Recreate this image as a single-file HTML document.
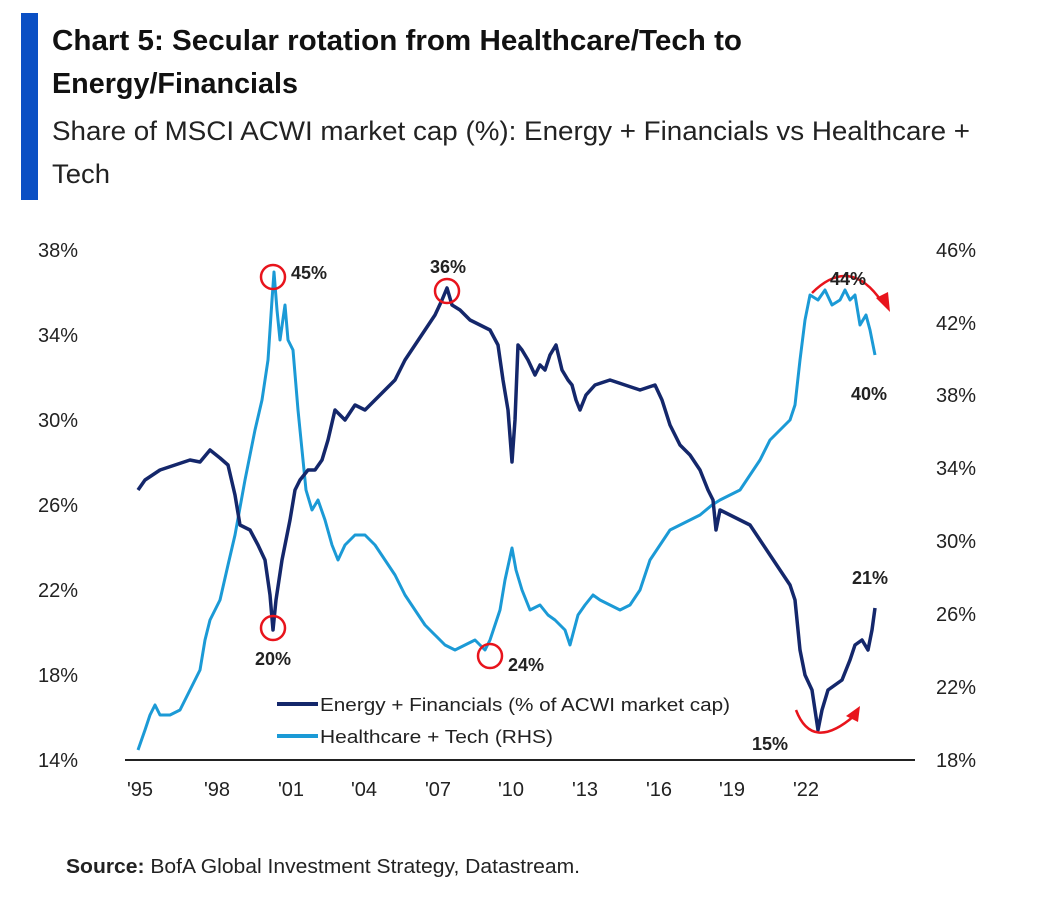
<!DOCTYPE html>
<html><head><meta charset="utf-8"><style>
html,body{margin:0;padding:0;background:#fff;}
svg{display:block;font-family:"Liberation Sans",sans-serif;}
</style></head><body>
<svg width="1040" height="898" viewBox="0 0 1040 898" xmlns="http://www.w3.org/2000/svg">
<rect x="21" y="13" width="17" height="187" fill="#0a4fc4"/>
<text x="52" y="50" font-size="29" font-weight="bold" fill="#111" textLength="690" lengthAdjust="spacingAndGlyphs">Chart 5: Secular rotation from Healthcare/Tech to</text>
<text x="52" y="93" font-size="29" font-weight="bold" fill="#111" textLength="246" lengthAdjust="spacingAndGlyphs">Energy/Financials</text>
<text x="52" y="140" font-size="27" fill="#222" textLength="918" lengthAdjust="spacingAndGlyphs">Share of MSCI ACWI market cap (%): Energy + Financials vs Healthcare +</text>
<text x="52" y="183" font-size="27" fill="#222" textLength="58" lengthAdjust="spacingAndGlyphs">Tech</text>

<g font-size="20" fill="#222">
<text x="38" y="257">38%</text><text x="38" y="342">34%</text><text x="38" y="427">30%</text><text x="38" y="512">26%</text><text x="38" y="597">22%</text><text x="38" y="682">18%</text><text x="38" y="767">14%</text>
<text x="936" y="257">46%</text><text x="936" y="330">42%</text><text x="936" y="402">38%</text><text x="936" y="475">34%</text><text x="936" y="548">30%</text><text x="936" y="621">26%</text><text x="936" y="694">22%</text><text x="936" y="767">18%</text>
</g>
<g font-size="20" fill="#222" text-anchor="middle">
<text x="140" y="796">'95</text><text x="217" y="796">'98</text><text x="291" y="796">'01</text><text x="364" y="796">'04</text><text x="438" y="796">'07</text><text x="511" y="796">'10</text><text x="585" y="796">'13</text><text x="659" y="796">'16</text><text x="732" y="796">'19</text><text x="806" y="796">'22</text>
</g>
<line x1="125" y1="760" x2="915" y2="760" stroke="#222" stroke-width="2"/>

<polyline fill="none" stroke="#1b9ad6" stroke-width="3" stroke-linejoin="round" points="138,750 145,730 150,715 155,705 160,715 170,715 180,710 190,690 200,670 205,640 210,620 220,600 228,565 235,535 245,480 255,430 262,400 268,360 272,300 274,272 277,310 280,340 285,305 288,340 293,350 298,410 302,450 306,490 312,510 318,500 325,520 332,545 338,560 345,545 355,535 365,535 375,545 385,560 395,575 405,595 415,610 425,625 435,635 445,645 455,650 465,645 475,640 485,650 490,640 495,625 500,610 505,580 512,548 516,570 522,590 530,610 540,605 548,615 555,620 565,630 570,645 578,615 585,605 593,595 600,600 610,605 620,610 630,605 640,590 650,560 660,545 670,530 680,525 690,520 700,515 712,505 720,500 730,495 740,490 750,475 760,460 770,440 780,430 790,420 795,405 800,360 805,320 810,295 818,300 825,290 832,305 840,300 845,290 850,300 855,295 860,325 866,315 870,330 875,355"/>
<polyline fill="none" stroke="#14276b" stroke-width="3.5" stroke-linejoin="round" points="138,490 145,480 160,470 175,465 190,460 200,462 210,450 220,458 228,465 235,495 240,525 250,530 258,545 265,560 270,595 273,630 276,600 282,560 290,520 295,490 300,480 308,470 315,470 322,460 328,440 335,410 345,420 355,405 365,410 375,400 385,390 395,380 405,360 415,345 425,330 435,315 442,300 447,288 452,305 460,310 470,320 480,325 490,330 498,345 503,380 508,410 512,462 515,420 518,345 522,350 528,360 535,375 540,365 545,370 550,355 556,345 562,370 568,380 572,385 576,400 580,410 586,395 595,385 610,380 625,385 640,390 655,385 662,400 670,425 680,445 690,455 700,470 708,490 713,500 716,530 720,510 730,515 740,520 750,525 760,540 770,555 780,570 790,585 795,600 800,650 805,675 812,690 818,730 822,710 828,690 835,685 842,680 850,660 855,645 862,640 868,650 872,630 875,608"/>

<g fill="none" stroke="#e8141c" stroke-width="2.5">
<circle cx="273" cy="277" r="12"/><circle cx="447" cy="291" r="12"/><circle cx="273" cy="628" r="12"/><circle cx="490" cy="656" r="12"/>
<path d="M812,293 Q850,255 882,302"/>
<path d="M796,710 Q812,752 854,716"/>
</g>
<polygon points="876,298 890,312 888,292" fill="#e8141c"/>
<polygon points="846,716 860,706 858,722" fill="#e8141c"/>

<g font-size="18" font-weight="bold" fill="#222">
<text x="291" y="279">45%</text><text x="430" y="273">36%</text><text x="255" y="665">20%</text><text x="508" y="671">24%</text>
<text x="830" y="285">44%</text><text x="851" y="400">40%</text><text x="852" y="584">21%</text><text x="752" y="750">15%</text>
</g>

<line x1="277" y1="704" x2="318" y2="704" stroke="#14276b" stroke-width="4"/>
<line x1="277" y1="736" x2="318" y2="736" stroke="#1b9ad6" stroke-width="4"/>
<g font-size="18" fill="#222">
<text x="320" y="711" textLength="410" lengthAdjust="spacingAndGlyphs">Energy + Financials (% of ACWI market cap)</text>
<text x="320" y="743" textLength="233" lengthAdjust="spacingAndGlyphs">Healthcare + Tech (RHS)</text>
</g>

<text x="66" y="873" font-size="20" fill="#222" textLength="514" lengthAdjust="spacingAndGlyphs"><tspan font-weight="bold">Source:</tspan> BofA Global Investment Strategy, Datastream.</text>
</svg>
</body></html>
